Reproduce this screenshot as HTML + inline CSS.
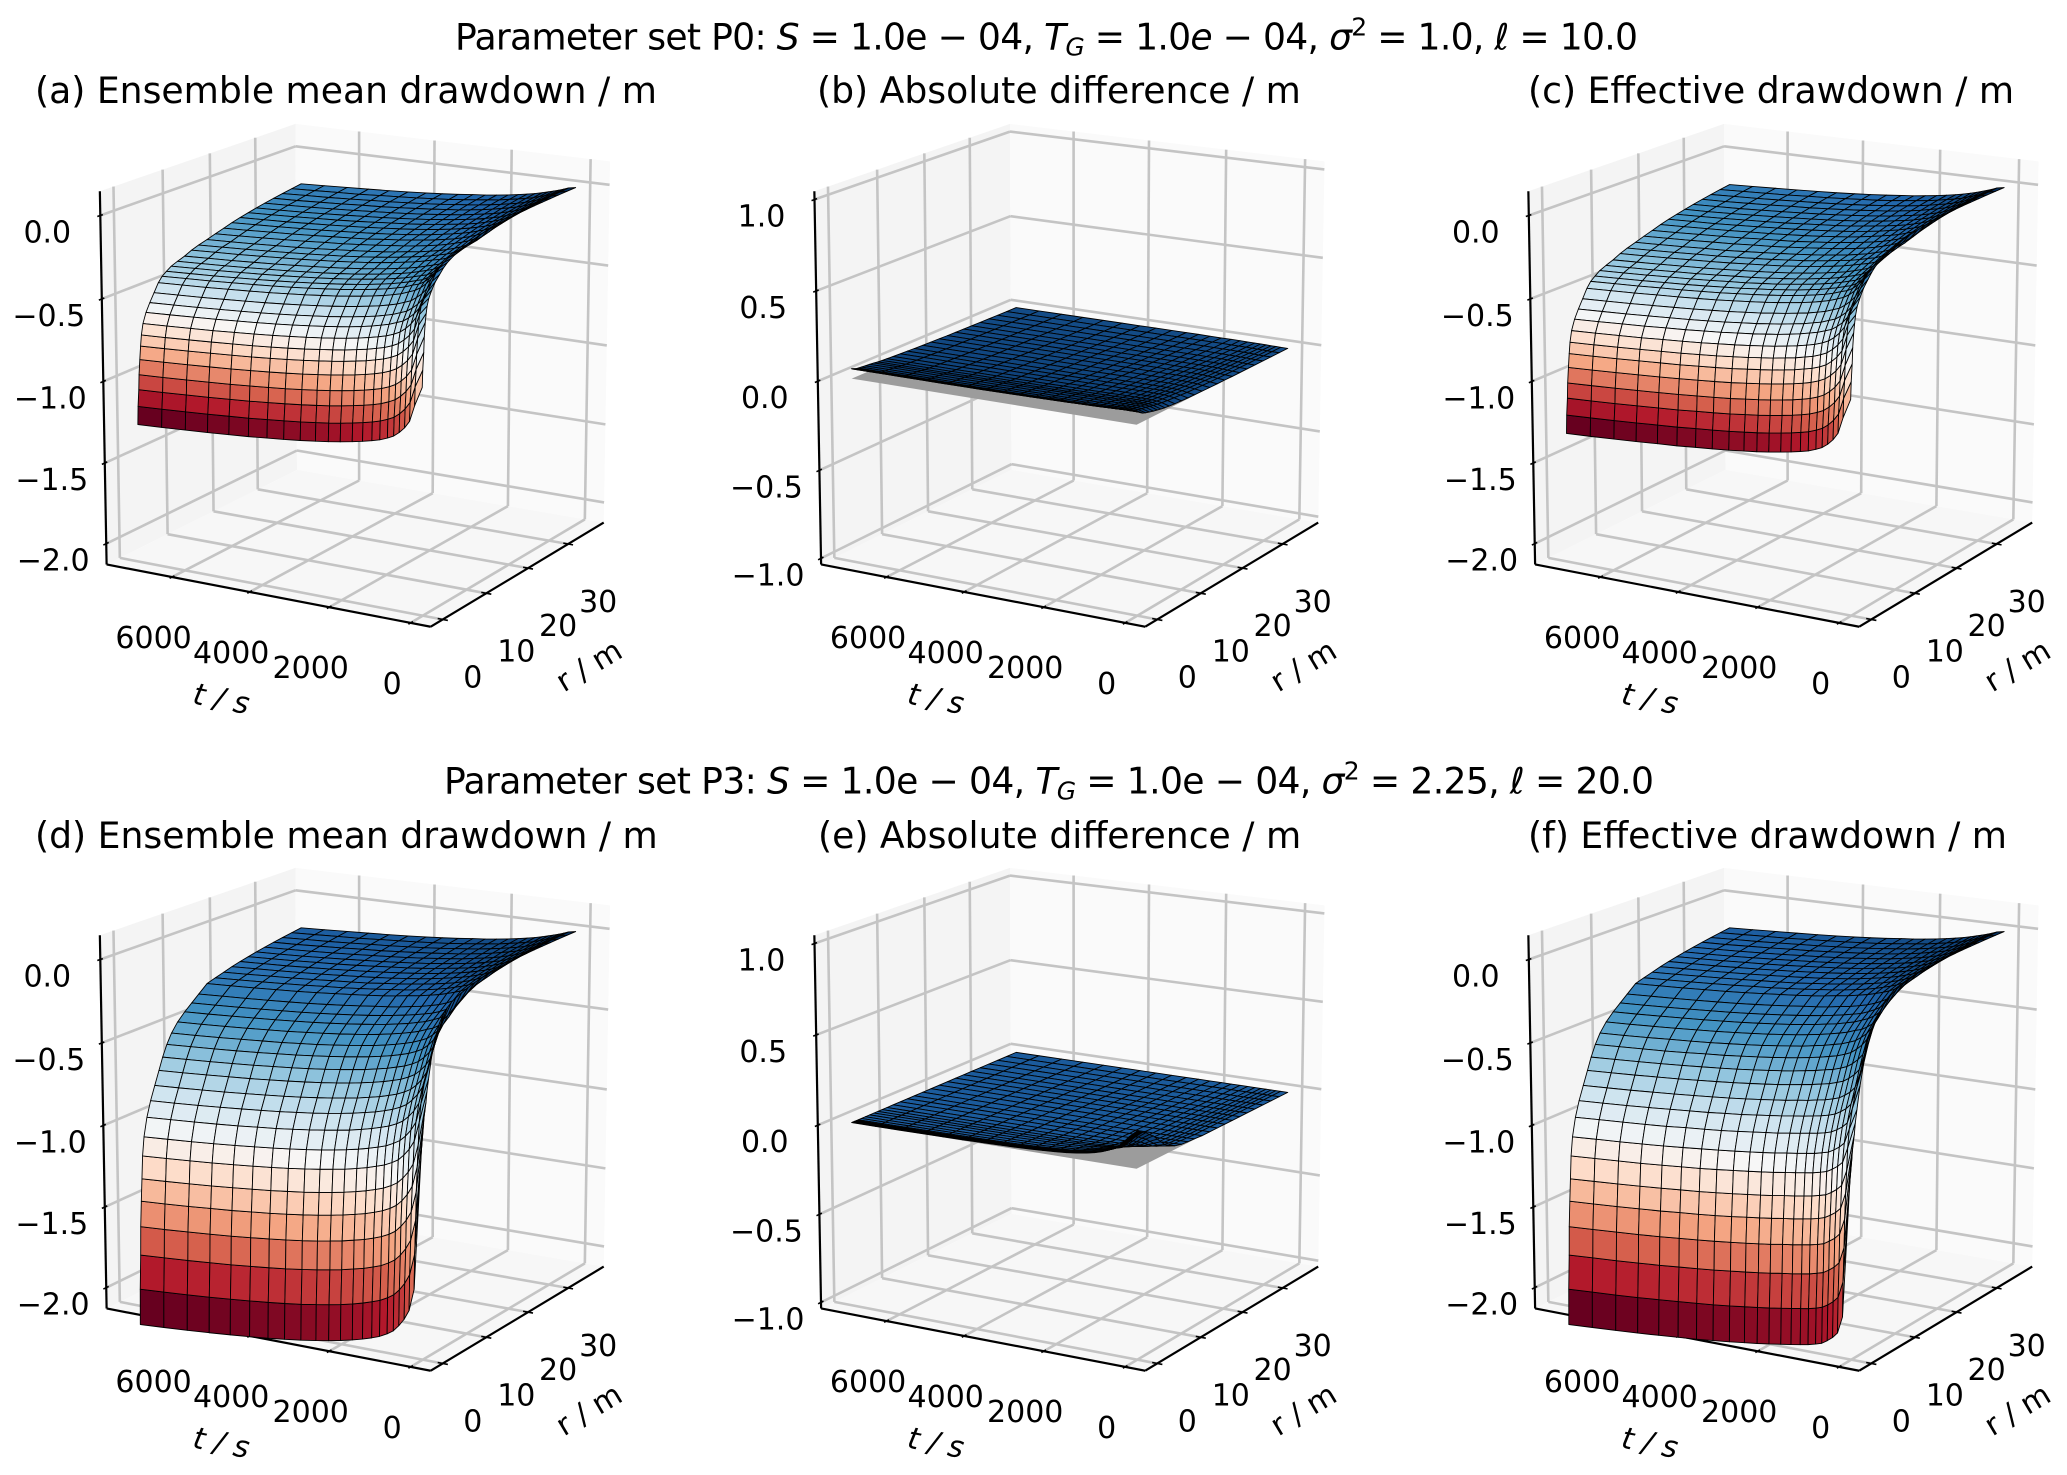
<!DOCTYPE html>
<html lang="en">
<head>
<meta charset="utf-8">
<title>Drawdown surfaces for parameter sets P0 and P3</title>
<style>
html,body{margin:0;padding:0;background:#fff;}
svg{display:block;font-family:"DejaVu Sans","Liberation Sans",sans-serif;fill:#000;}
.title{font-size:36.15px;}
.tick{font-size:30px;text-anchor:middle;}
.axl{font-size:30px;text-anchor:middle;}
</style>
</head>
<body>
<svg id="fig" xmlns="http://www.w3.org/2000/svg" width="2067" height="1475" viewBox="0 0 2067 1475">
<rect width="2067" height="1475" fill="#fff"/>
<text class="title" x="455" y="49.5" textLength="1183">Parameter set P0: <tspan font-style="italic">S</tspan> = 1.0e − 04, <tspan font-style="italic">T</tspan><tspan font-style="italic" font-size="25" dy="6">G</tspan><tspan dy="-6"> = 1.0</tspan><tspan font-style="italic">e</tspan> − 04, <tspan font-style="italic">σ</tspan><tspan font-size="25" dy="-14">2</tspan><tspan dy="14"> = 1.0, </tspan><tspan font-style="italic">ℓ</tspan> = 10.0</text>
<text class="title" x="444" y="793.5" textLength="1210">Parameter set P3: <tspan font-style="italic">S</tspan> = 1.0e − 04, <tspan font-style="italic">T</tspan><tspan font-style="italic" font-size="25" dy="6">G</tspan><tspan dy="-6"> = 1.0e − 04, </tspan><tspan font-style="italic">σ</tspan><tspan font-size="25" dy="-14">2</tspan><tspan dy="14"> = 2.25, </tspan><tspan font-style="italic">ℓ</tspan> = 20.0</text>
<text class="title" x="35" y="103">(a) Ensemble mean drawdown / m</text>
<text class="title" x="817" y="103">(b) Absolute difference / m</text>
<text class="title" x="1528" y="103">(c) Effective drawdown / m</text>
<text class="title" x="35" y="848">(d) Ensemble mean drawdown / m</text>
<text class="title" x="818" y="848">(e) Absolute difference / m</text>
<text class="title" x="1528" y="848">(f) Effective drawdown / m</text>
</svg>
<script>
// ---- data ----
const timeGridS = [50,230,350,470,600,734,886,1072,1265,1493,1746,2041,2336,2656,3035,3449,3870,4342,4840,5387,5960,6576,7200];
const radiusGridM = [0.1,0.2,0.4,0.5,0.7,0.9,1.1,1.45,2.1,2.9,3.8,4.7,5.5,6.4,7.4,8.7,10.2,11.7,13.2,15,16.8,18.6,20.4,22.2,24,25.8,27.7,29.7,31.7,33.8,36];
const tTicks = [0,2000,4000,6000];
const rTicks = [0,10,20,30];
const drawdownTicks = [0,-0.5,-1,-1.5,-2];
const differenceTicks = [1,0.5,0,-0.5,-1];

// drawdown in mm: rows = radius, columns = time
const nearWellP0 = [
[-780,-894,-990,-1033,-1066,-1092,-1110,-1128,-1141,-1154,-1166,-1179,-1190,-1200,-1211,-1221,-1230,-1240,-1248,-1257,-1265,-1273,-1280],
[-680,-784,-880,-923,-956,-982,-1000,-1018,-1031,-1044,-1056,-1069,-1080,-1090,-1101,-1111,-1120,-1130,-1138,-1147,-1155,-1163,-1170],
[-580,-684,-780,-823,-856,-882,-900,-918,-931,-944,-956,-969,-980,-990,-1001,-1011,-1020,-1030,-1038,-1047,-1055,-1063,-1070],
[-490,-599,-694,-736,-768,-794,-813,-830,-843,-856,-868,-880,-891,-901,-912,-922,-931,-940,-949,-957,-965,-973,-980],
[-410,-509,-604,-646,-678,-704,-723,-740,-753,-766,-778,-790,-801,-811,-822,-832,-841,-850,-859,-867,-875,-883,-890],
[-360,-434,-528,-569,-601,-627,-645,-662,-674,-688,-699,-712,-722,-732,-743,-753,-762,-771,-779,-787,-795,-803,-810],
[-320,-375,-463,-504,-536,-562,-580,-597,-609,-623,-634,-647,-657,-667,-678,-688,-697,-706,-714,-722,-730,-738,-745],
[-280,-330,-401,-442,-474,-499,-517,-534,-546,-559,-571,-583,-593,-603,-613,-623,-632,-641,-649,-658,-665,-673,-680],
[-240,-295,-355,-392,-420,-443,-457,-474,-486,-499,-511,-523,-533,-543,-553,-563,-572,-581,-589,-598,-605,-613,-620],
[-200,-262,-310,-345,-372,-395,-409,-426,-438,-451,-462,-474,-484,-494,-504,-514,-523,-532,-540,-548,-556,-563,-570],
[-170,-215,-262,-295,-322,-345,-359,-376,-388,-401,-412,-424,-434,-444,-454,-464,-473,-482,-490,-498,-506,-513,-520],
[-140,-175,-218,-248,-275,-295,-309,-326,-338,-351,-362,-374,-384,-394,-404,-414,-423,-432,-440,-448,-456,-463,-470],
[-120,-155,-195,-224,-250,-268,-279,-296,-308,-321,-332,-344,-354,-364,-374,-384,-393,-402,-410,-418,-426,-433,-440],
[-105,-135,-178,-208,-234,-252,-262,-276,-288,-301,-312,-324,-334,-344,-354,-364,-373,-382,-390,-398,-406,-413,-420],
[-90,-120,-160,-190,-216,-235,-245,-258,-270,-282,-293,-305,-315,-325,-335,-345,-353,-362,-370,-378,-386,-393,-400],
[-76,-108,-145,-175,-200,-218,-229,-242,-255,-267,-278,-290,-300,-310,-320,-330,-338,-347,-355,-363,-371,-378,-385],
[-62,-98,-130,-160,-184,-203,-214,-227,-240,-252,-263,-275,-285,-295,-305,-315,-323,-332,-340,-348,-356,-363,-370],
[-48,-88,-120,-146,-168,-186,-198,-208,-220,-232,-243,-255,-265,-275,-285,-295,-303,-312,-320,-328,-336,-343,-350],
[-38,-84,-112,-134,-152,-170,-183,-194,-206,-218,-228,-240,-250,-260,-270,-280,-288,-297,-305,-313,-321,-328,-335]
];
const nearWellP3 = [
[-800,-1720,-1852,-1910,-1955,-1992,-2017,-2041,-2059,-2077,-2094,-2111,-2126,-2140,-2155,-2169,-2182,-2194,-2206,-2218,-2229,-2240,-2250],
[-770,-1510,-1639,-1696,-1741,-1776,-1801,-1825,-1842,-1860,-1877,-1894,-1908,-1922,-1937,-1951,-1963,-1975,-1987,-1999,-2010,-2020,-2030],
[-735,-1309,-1436,-1492,-1536,-1571,-1595,-1619,-1636,-1654,-1669,-1686,-1700,-1714,-1728,-1742,-1754,-1766,-1778,-1789,-1800,-1810,-1820],
[-700,-1144,-1269,-1324,-1366,-1401,-1425,-1447,-1464,-1482,-1497,-1514,-1527,-1541,-1555,-1568,-1580,-1592,-1604,-1615,-1625,-1636,-1645],
[-660,-998,-1121,-1175,-1217,-1250,-1274,-1296,-1313,-1330,-1345,-1361,-1375,-1388,-1402,-1415,-1427,-1438,-1450,-1460,-1471,-1481,-1490],
[-620,-872,-992,-1045,-1086,-1119,-1142,-1164,-1180,-1197,-1212,-1228,-1241,-1254,-1268,-1280,-1292,-1303,-1314,-1325,-1335,-1345,-1354],
[-560,-744,-861,-913,-953,-986,-1008,-1030,-1045,-1062,-1077,-1093,-1105,-1118,-1131,-1144,-1155,-1166,-1177,-1188,-1197,-1207,-1216],
[-490,-640,-755,-806,-846,-877,-899,-921,-936,-952,-967,-982,-995,-1007,-1020,-1032,-1043,-1054,-1065,-1075,-1085,-1094,-1103],
[-370,-539,-652,-702,-740,-771,-793,-813,-828,-844,-859,-874,-886,-898,-911,-923,-934,-944,-955,-965,-974,-983,-992],
[-270,-457,-567,-616,-653,-684,-705,-725,-740,-756,-769,-784,-796,-808,-821,-832,-843,-853,-863,-873,-883,-892,-900],
[-195,-384,-492,-540,-577,-606,-627,-647,-661,-677,-690,-705,-716,-728,-740,-752,-762,-772,-782,-792,-801,-810,-818],
[-150,-313,-418,-465,-501,-530,-550,-570,-584,-599,-612,-626,-638,-649,-661,-672,-682,-692,-702,-711,-720,-729,-737],
[-125,-250,-354,-399,-435,-463,-483,-502,-515,-530,-543,-557,-568,-579,-591,-602,-612,-621,-631,-640,-649,-657,-665],
[-105,-210,-294,-338,-373,-401,-420,-438,-452,-466,-479,-492,-503,-514,-525,-536,-546,-555,-565,-574,-582,-590,-598],
[-90,-195,-255,-295,-325,-350,-366,-384,-397,-411,-424,-437,-447,-458,-469,-480,-489,-499,-507,-516,-525,-533,-540],
[-75,-170,-225,-260,-285,-305,-317,-335,-348,-361,-373,-386,-397,-407,-418,-428,-437,-447,-455,-464,-472,-480,-487],
[-60,-140,-185,-215,-242,-262,-277,-294,-306,-320,-331,-344,-354,-364,-375,-385,-394,-403,-411,-419,-427,-435,-442],
[-48,-115,-155,-185,-208,-228,-245,-262,-273,-285,-296,-308,-318,-328,-338,-348,-357,-366,-374,-382,-390,-397,-404],
[-38,-92,-128,-155,-178,-195,-212,-228,-240,-252,-262,-274,-283,-291,-301,-311,-320,-329,-337,-345,-352,-359,-366]
];
const farFieldDrawdown = [
[-30,-79,-105,-124,-141,-156,-169,-182,-195,-206,-218,-227,-238,-248,-257,-266,-275,-284,-293,-300,-308,-315,-321],
[-23,-68,-92,-110,-125,-139,-152,-165,-178,-190,-201,-212,-222,-230,-240,-250,-259,-266,-275,-283,-291,-298,-305],
[-17,-55,-79,-96,-112,-125,-138,-152,-164,-175,-186,-197,-206,-216,-225,-236,-244,-251,-260,-268,-275,-283,-290],
[-12,-47,-69,-86,-100,-114,-125,-139,-150,-161,-172,-184,-194,-203,-213,-222,-230,-238,-246,-254,-261,-268,-275],
[-9,-39,-60,-76,-90,-103,-115,-127,-139,-150,-161,-172,-181,-191,-200,-209,-218,-226,-234,-242,-250,-256,-262],
[-6,-32,-51,-67,-81,-93,-105,-117,-129,-140,-150,-160,-170,-180,-189,-197,-206,-215,-223,-230,-238,-245,-251],
[-4,-26,-45,-60,-73,-84,-97,-108,-119,-130,-140,-151,-160,-170,-179,-188,-196,-204,-212,-220,-228,-235,-240],
[-3,-21,-38,-52,-65,-76,-87,-99,-110,-120,-130,-142,-150,-159,-169,-178,-186,-194,-202,-210,-218,-224,-230],
[-2,-18,-32,-45,-57,-68,-79,-90,-100,-111,-122,-132,-142,-150,-159,-168,-176,-185,-191,-200,-207,-215,-220],
[-1,-14,-27,-39,-50,-61,-72,-83,-92,-103,-113,-123,-132,-140,-150,-159,-167,-175,-182,-190,-198,-204,-211],
[0,-11,-22,-33,-44,-53,-65,-75,-84,-94,-105,-114,-123,-132,-142,-150,-158,-166,-173,-182,-188,-195,-202],
[0,-8,-19,-29,-38,-47,-57,-68,-77,-87,-97,-107,-116,-123,-133,-142,-150,-158,-165,-172,-179,-186,-193]
];
// absolute difference in mm; missing entries are zero
const absDifferenceP0 = [
[70,70,70,70,69,68,67,66,64,63,62,61,60,59,58,57,56,56,55,55,55,55,55],
[68,68,68,67,66,65,64,63,62,61,60,59,58,57,56,55,54,54,53,53,53,53,53],
[66,66,66,65,64,63,62,61,60,59,58,57,56,55,55,54,53,53,52,52,52,52,52],
[63,64,64,63,62,61,60,59,58,57,56,55,54,53,53,52,51,51,50,50,50,50,50],
[60,62,62,61,60,59,58,57,56,55,54,53,52,51,51,50,49,49,48,48,48,48,48],
[56,60,60,59,58,57,56,55,54,53,52,51,50,49,49,48,47,47,46,46,46,46,46],
[52,57,57,56,55,54,53,52,51,50,49,48,47,47,46,46,45,45,44,44,44,44,44],
[46,54,55,54,53,52,51,50,49,48,47,47,46,45,45,44,44,43,43,43,43,43,43],
[40,50,52,51,50,49,48,47,46,46,45,45,44,44,43,43,42,42,41,41,41,41,41],
[34,46,48,48,47,46,45,45,44,44,43,43,42,42,41,41,40,40,39,39,39,39,39],
[28,42,45,45,44,44,43,43,42,42,41,41,40,40,39,39,38,38,37,37,37,37,37],
[23,37,41,42,41,41,41,40,40,39,39,38,38,37,37,36,36,35,35,34,34,34,34],
[19,32,37,38,38,38,38,37,37,36,36,35,35,34,34,33,33,32,32,31,31,31,31],
[15,28,33,35,35,35,35,35,34,34,33,33,32,32,31,31,30,30,30,29,29,29,29],
[12,24,29,31,32,32,32,32,32,31,31,30,30,30,29,29,28,28,28,27,27,27,27],
[9,20,25,28,29,29,29,29,29,29,28,28,28,27,27,27,26,26,26,25,25,25,25],
[7,17,22,25,26,26,27,27,27,26,26,26,25,25,25,24,24,24,24,23,23,23,23],
[5,14,19,22,23,24,24,24,24,24,24,23,23,23,23,22,22,22,22,21,21,21,21],
[4,11,16,19,20,21,22,22,22,22,21,21,21,21,20,20,20,20,20,19,19,19,19],
[3,9,13,16,17,18,19,19,19,19,19,19,19,18,18,18,18,18,18,17,17,17,17],
[2,7,11,13,15,16,16,17,17,17,17,17,16,16,16,16,16,16,16,15,15,15,15],
[1,5,9,11,13,14,15,15,15,15,15,15,15,15,15,15,14,14,14,14,14,14,14],
[1,4,7,9,11,12,13,13,13,13,13,13,13,13,13,13,13,13,12,12,12,12,12],
[0,3,5,8,9,10,11,11,11,11,12,12,12,12,12,12,11,11,11,11,11,11,11],
[0,2,4,6,8,9,9,10,10,10,10,10,10,10,10,10,10,10,10,10,10,10,10],
[0,2,3,5,6,7,8,8,9,9,9,9,9,9,9,9,9,9,9,9,9,9,9],
[0,1,2,4,5,6,7,7,7,8,8,8,8,8,8,8,8,8,8,8,8,8,8],
[0,1,2,3,4,5,5,6,6,7,7,7,7,7,7,7,7,7,7,7,7,7,7],
[0,0,1,2,3,4,4,5,5,5,6,6,6,6,6,6,6,6,6,6,6,6,6],
[0,0,1,2,2,3,4,4,4,5,5,5,5,5,5,5,5,5,5,5,5,5,5],
[0,0,1,1,2,3,3,3,4,4,4,4,5,5,5,5,5,5,5,5,5,5,5]
];
const absDifferenceP3 = [
[200,165,135,110,90,75,62,50,41,33,26,21,17,13,10,8,6,4,3,2,1],
[200,165,135,110,90,75,62,50,41,33,26,21,17,13,10,8,6,4,3,2,1],
[200,165,135,110,90,75,62,50,41,33,26,21,17,13,10,8,6,4,3,2,1],
[196,162,132,108,88,74,61,49,40,32,25,21,17,13,10,8,6,4,3,2,1],
[192,158,130,106,86,72,60,48,39,32,25,20,16,12,10,8,6,4,3,2,1],
[188,155,127,103,85,71,58,47,39,31,24,20,16,12,9,8,6,4,3,2,1],
[184,152,124,101,83,69,57,46,38,30,24,19,16,12,9,7,6,4,3,2,1],
[180,149,122,99,81,68,56,45,37,30,23,19,15,12,9,7,5,4,3,2,1],
[170,140,115,94,77,64,53,43,35,28,22,18,14,11,9,7,5,3,3,2,1],
[150,124,101,83,68,56,47,38,31,25,20,16,13,10,8,6,5,3,2,2,1],
[132,109,89,73,59,50,41,33,27,22,17,14,11,9,7,5,4,3,2,1,1],
[104,86,70,57,47,39,32,26,21,17,14,11,9,7,5,4,3,2,2,1,1],
[80,66,54,44,36,30,25,20,16,13,10,8,7,5,4,3,2,2,1,1],
[54,45,36,30,24,20,17,14,11,9,7,6,5,4,3,2,2,1,1,1],
[34,28,23,19,15,13,11,9,7,6,4,4,3,2,2,1,1,1,1],
[20,17,14,11,9,8,6,5,4,3,3,2,2,1,1,1,1],
[10,8,7,6,5,4,3,3,2,2,1,1,1,1],
[6,5,4,3,3,2,2,2,1,1,1,1],
[4,3,3,2,2,2,1,1,1,1]
];

// ---- derived surfaces ----
const ensembleP0 = nearWellP0.concat(farFieldDrawdown);
const ensembleP3 = nearWellP3.concat(farFieldDrawdown);
function diffAt(d,i,j){ return (d[i]&&d[i][j])||0; }
function minusDiff(e,d){ return e.map(function(row,i){ return row.map(function(v,j){ return v-diffAt(d,i,j); }); }); }
function plainDiff(e,d){ return e.map(function(row,i){ return row.map(function(v,j){ return diffAt(d,i,j); }); }); }

const svg = document.getElementById('fig');
const NS = 'http://www.w3.org/2000/svg';

// ---- RdBu colormap ----
const rdbu = ['#67001f','#b2182b','#d6604d','#f4a582','#fddbc7','#f7f7f7','#d1e5f0','#92c5de','#4393c3','#2166ac','#053061'];
function hex(c){ return [parseInt(c.slice(1,3),16),parseInt(c.slice(3,5),16),parseInt(c.slice(5,7),16)]; }
function cmap(v){
  v=Math.max(0,Math.min(1,v))*10;
  var k=Math.min(9,Math.floor(v)),f=v-k,a=hex(rdbu[k]),b=hex(rdbu[k+1]);
  return 'rgb('+Math.round(a[0]+(b[0]-a[0])*f)+','+Math.round(a[1]+(b[1]-a[1])*f)+','+Math.round(a[2]+(b[2]-a[2])*f)+')';
}
function faceRange(m){
  var lo=1e9,hi=-1e9;
  for(var i=0;i<m.length-1;i++)for(var j=0;j<m[i].length-1;j++){
    var v=(m[i][j]+m[i+1][j]+m[i][j+1]+m[i+1][j+1])/4000;
    if(v<lo)lo=v; if(v>hi)hi=v;
  }
  return [lo,hi];
}

// ---- panel drawing ----
const EL=15*Math.PI/180, AZ=-60*Math.PI/180, DIST=10;
const nV=[Math.cos(AZ)*Math.cos(EL),Math.sin(AZ)*Math.cos(EL),Math.sin(EL)];
const uV=[-nV[1]/Math.cos(EL),nV[0]/Math.cos(EL),0];
const vV=[nV[1]*uV[2]-nV[2]*uV[1],nV[2]*uV[0]-nV[0]*uV[2],nV[0]*uV[1]-nV[1]*uV[0]];
function dot(p,q){ return p[0]*q[0]+p[1]*q[1]+p[2]*q[2]; }

function drawPanel(id,cx,cy,zLo,zHi,zTicks,matrix,norm,withPlane){
  const g=document.createElementNS(NS,'g');
  
  
  svg.appendChild(g);
  const SX=3685,SY=3800;
  function aOf(t){ return (7724-t)/8208; }
  function bOf(r){ return (r+2.7)/41.9; }
  function cOf(z){ return (z-zLo)/(zHi-zLo); }
  function proj(a,b,c){
    var p=[a-.5,b-.5,c-.5],d=DIST-dot(p,nV);
    return [cx+SX*dot(p,uV)/d, cy-SY*dot(p,vV)/d, d];
  }
  function pts(list){ return list.map(function(q){ return q[0].toFixed(2)+','+q[1].toFixed(2); }).join(' '); }
  function line(p,q,color,w,nm){
    var el=document.createElementNS(NS,'line');
    
    
    el.setAttribute('x1',p[0].toFixed(2));el.setAttribute('y1',p[1].toFixed(2));
    el.setAttribute('x2',q[0].toFixed(2));el.setAttribute('y2',q[1].toFixed(2));
    el.setAttribute('stroke',color);el.setAttribute('stroke-width',w);
    g.appendChild(el);
  }
  function label(x,y,str,nm){
    var el=document.createElementNS(NS,'text');
    
    
    el.setAttribute('class','tick');
    el.setAttribute('x',x.toFixed(1));el.setAttribute('y',(y+11).toFixed(1));
    el.textContent=str;
    g.appendChild(el);
  }
  function pane(corners,color,nm){
    var el=document.createElementNS(NS,'polygon');
    
    
    el.setAttribute('points',pts(corners));
    el.setAttribute('fill',color);
    g.appendChild(el);
  }
  pane([proj(0,0,0),proj(0,1,0),proj(0,1,1),proj(0,0,1)],'#f4f4f4','left-pane');
  pane([proj(0,1,0),proj(1,1,0),proj(1,1,1),proj(0,1,1)],'#fafafa','back-pane');
  pane([proj(0,0,0),proj(1,0,0),proj(1,1,0),proj(0,1,0)],'#f7f7f7','floor-pane');

  const GRID='#c4c4c4',GW=2.6;
  tTicks.forEach(function(t){
    var a=aOf(t);
    line(proj(a,0,0),proj(a,1,0),GRID,GW,'t-gridline-floor');
    line(proj(a,1,0),proj(a,1,1),GRID,GW,'t-gridline-back');
  });
  rTicks.forEach(function(r){
    var b=bOf(r);
    line(proj(1,b,0),proj(0,b,0),GRID,GW,'r-gridline-floor');
    line(proj(0,b,0),proj(0,b,1),GRID,GW,'r-gridline-left');
  });
  zTicks.forEach(function(z){
    var c=cOf(z);
    line(proj(0,0,c),proj(0,1,c),GRID,GW,'z-gridline-left');
    line(proj(0,1,c),proj(1,1,c),GRID,GW,'z-gridline-back');
  });

  line(proj(0,0,0),proj(0,0,1),'#000',2.2,'z-axis-line');
  line(proj(0,0,0),proj(1,0,0),'#000',2.2,'t-axis-line');
  line(proj(1,0,0),proj(1,1,0),'#000',2.2,'r-axis-line');

  tTicks.forEach(function(t){
    var a=aOf(t),p=proj(a,0,0);
    line(proj(a,-.012,0),proj(a,.012,0),'#000',1.6,'t-tick');
    label(p[0]-18.5,p[1]+60,String(t),'t-tick-label');
  });
  rTicks.forEach(function(r){
    var b=bOf(r),p=proj(1,b,0);
    line(proj(1.015,b,0),proj(.985,b,0),'#000',1.6,'r-tick');
    label(p[0]+30,p[1]+57,String(r),'r-tick-label');
  });
  zTicks.forEach(function(z){
    var c=cOf(z),p=proj(0,0,c);
    line(proj(0,-.014,c),proj(0,.012,c),'#000',1.6,'z-tick');
    label(p[0]-53,p[1]+16,z.toFixed(1).replace('-','\u2212'),'z-tick-label');
  });

  var tl=document.createElementNS(NS,'text');
  
  
  tl.setAttribute('class','axl');
  tl.setAttribute('font-style','italic');
  tl.setAttribute('transform','translate('+(cx-138)+','+(cy+336)+') rotate(11)');
  tl.setAttribute('y','11');
  tl.textContent='t / s';
  g.appendChild(tl);
  var rl=document.createElementNS(NS,'text');
  
  
  rl.setAttribute('class','axl');
  rl.setAttribute('transform','translate('+(cx+229)+','+(cy+303)+') rotate(-31)');
  rl.setAttribute('y','11');
  rl.textContent='r / m';
  g.appendChild(rl);

  const nT=timeGridS.length,nR=radiusGridM.length;
  if(withPlane){
    var c0=cOf(0);
    var plane=document.createElementNS(NS,'polygon');
    
    
    plane.setAttribute('points',pts([
      proj(aOf(timeGridS[0]),bOf(radiusGridM[0]),c0),
      proj(aOf(timeGridS[nT-1]),bOf(radiusGridM[0]),c0),
      proj(aOf(timeGridS[nT-1]),bOf(radiusGridM[nR-1]),c0),
      proj(aOf(timeGridS[0]),bOf(radiusGridM[nR-1]),c0)]));
    plane.setAttribute('fill','#9c9c9c');
    g.appendChild(plane);
  }

  var cells=[];
  for(var i=0;i<nR-1;i++){
    for(var j=0;j<nT-1;j++){
      var q=[[i,j],[i,j+1],[i+1,j+1],[i+1,j]].map(function(k){
        return proj(aOf(timeGridS[k[1]]),bOf(radiusGridM[k[0]]),cOf(matrix[k[0]][k[1]]/1000));
      });
      var mean=(matrix[i][j]+matrix[i][j+1]+matrix[i+1][j+1]+matrix[i+1][j])/4000;
      cells.push({q:q,m:mean,d:(q[0][2]+q[1][2]+q[2][2]+q[3][2])/4});
    }
  }
  cells.sort(function(x,y){ return y.d-x.d; });
  var sg=document.createElementNS(NS,'g');
  
  
  sg.setAttribute('stroke','#000');
  sg.setAttribute('stroke-width','0.9');
  sg.setAttribute('stroke-linejoin','round');
  g.appendChild(sg);
  cells.forEach(function(cell){
    var el=document.createElementNS(NS,'polygon');
    
    
    el.setAttribute('points',pts(cell.q));
    el.setAttribute('fill',cmap((cell.m-norm[0])/(norm[1]-norm[0])));
    sg.appendChild(el);
  });
}

const effectiveP0 = minusDiff(ensembleP0,absDifferenceP0);
const effectiveP3 = minusDiff(ensembleP3,absDifferenceP3);
const diffGridP0 = plainDiff(ensembleP0,absDifferenceP0);
const diffGridP3 = plainDiff(ensembleP3,absDifferenceP3);
const rangeA = faceRange(ensembleP0), rangeD = faceRange(ensembleP3);

drawPanel('a',359.5,362,-2.13,0.144,drawdownTicks,ensembleP0,rangeA,false);
drawPanel('b',1074,362,-1.035,1.045,differenceTicks,diffGridP0,[rangeA[0],faceRange(diffGridP0)[1]],true);
drawPanel('c',1788,362,-2.13,0.144,drawdownTicks,effectiveP0,faceRange(effectiveP0),false);
drawPanel('d',359.5,1106,-2.13,0.144,drawdownTicks,ensembleP3,rangeD,false);
drawPanel('e',1074,1106,-1.035,1.045,differenceTicks,diffGridP3,[rangeD[0],faceRange(diffGridP3)[1]],true);
drawPanel('f',1788,1106,-2.13,0.144,drawdownTicks,effectiveP3,faceRange(effectiveP3),false);
</script>
</body>
</html>
